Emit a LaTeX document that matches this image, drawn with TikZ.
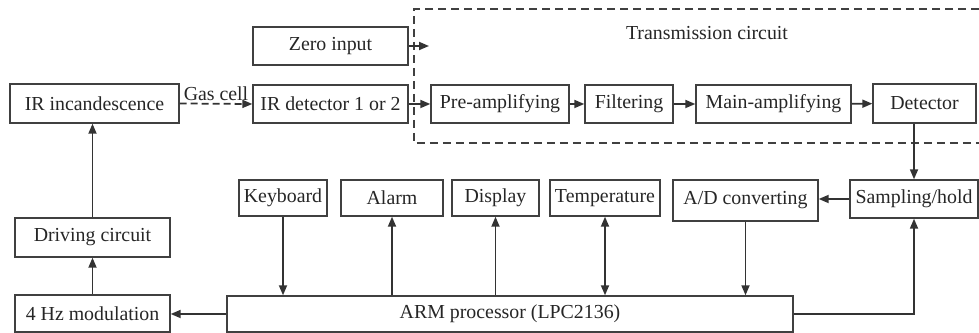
\documentclass[tikz,border=0pt]{standalone}
\usepackage{fontspec}
\setmainfont{Liberation Serif}
\usepackage{tikz}
\usetikzlibrary{arrows.meta, positioning}

\begin{document}
\begin{tikzpicture}[
    x=0.02cm, y=-0.02cm,
    box/.style={rectangle, draw=black!75, line width=0.8pt, minimum height=0.76cm, inner sep=0pt, align=center, text=black!85, font=\fontsize{11.3}{13}\selectfont},
    arrow/.style={-{Triangle[length=2mm, width=1.6mm]}, line width=1pt, draw=black!80},
    biarrow/.style={{Triangle[length=2mm, width=1.6mm]}-{Triangle[length=2mm, width=1.6mm]}, line width=1pt, draw=black!80},
    frame/.style={dashed, dash pattern=on 0.16cm off 0.1cm, line width=1pt, draw=black!75},
    label/.style={font=\fontsize{11.3}{13}\selectfont, text=black!85, inner sep=1pt}
]
\useasboundingbox (0,0) rectangle (979,333);

% Top rows - source and detector
\node[box, minimum width=3.38cm, minimum height=0.78cm] (lamp) at (94.5,103.5) {IR incandescence};
\node[box, minimum width=3.10cm] (zero) at (330.5,46) {Zero input};
\node[box, minimum width=3.10cm] (irdet) at (330.5,104) {IR detector 1 or 2};

% Transmission circuit
\node[box, minimum width=2.76cm] (preamp) at (500,104) {Pre-amplifying};
\node[box, minimum width=1.76cm] (filter) at (629,104) {Filtering};
\node[box, minimum width=3.10cm] (mainamp) at (773.5,104) {Main-amplifying};
\node[box, minimum width=2.06cm, minimum height=0.78cm] (detector) at (924.5,103.5) {Detector};
\node[label] (transtitle) at (707,33) {Transmission circuit};
\coordinate (zin) at (429,46);

% Middle row - peripherals
\node[box, minimum width=1.76cm, minimum height=0.72cm] (keyboard) at (283,198) {Keyboard};
\node[box, minimum width=2.04cm, minimum height=0.72cm] (alarm) at (392,198) {Alarm};
\node[box, minimum width=1.74cm, minimum height=0.72cm] (display) at (495.5,198) {Display};
\node[box, minimum width=2.20cm, minimum height=0.72cm] (temp) at (605,198) {Temperature};
\node[box, minimum width=2.90cm, minimum height=0.82cm] (adc) at (745.5,200.5) {A/D converting};
\node[box, minimum width=2.56cm] (sample) at (914,199) {Sampling/hold};

% Left column and processor
\node[box, minimum width=3.10cm, minimum height=0.78cm] (drive) at (92.5,237.5) {Driving circuit};
\node[box, minimum width=3.10cm, minimum height=0.74cm] (mod) at (92.5,313.5) {4 Hz modulation};
\node[box, minimum width=11.32cm, minimum height=0.72cm] (arm) at (510,314) {ARM processor (LPC2136)};

% Dashed frame round the transmission circuit
\draw[frame] (979,9) -| (414,143) -- (979,143);

% Arrows - optical path
\draw[arrow, dash pattern=on 0.14cm off 0.08cm] (lamp.east) -- node[label, above] {Gas cell} (irdet.west);
\draw[arrow] (zero.east) -- (zin);
\draw[arrow] (irdet.east) -- (preamp.west);
\draw[arrow] (preamp) -- (filter);
\draw[arrow] (filter) -- (mainamp);
\draw[arrow] (mainamp) -- (detector);

% Arrows - sampling and conversion
\draw[arrow] (detector.south -| sample.north) -- (sample.north);
\draw[arrow] (sample.west) -- (sample.west -| adc.east);
\draw[arrow] (adc.south) -- (adc.south |- arm.north);
\draw[arrow] (arm.east) -| (sample.south);

% Arrows - peripherals
\draw[arrow] (keyboard.south) -- (keyboard.south |- arm.north);
\draw[arrow] (alarm.south |- arm.north) -- (alarm.south);
\draw[arrow] (display.south |- arm.north) -- (display.south);
\draw[biarrow] (temp.south) -- (temp.south |- arm.north);

% Arrows - driving chain
\draw[arrow] (arm.west) -- (arm.west -| mod.east);
\draw[arrow] (mod.north) -- (drive.south);
\draw[arrow] (drive.north) -- (drive.north |- lamp.south);

\end{tikzpicture}
\end{document}
